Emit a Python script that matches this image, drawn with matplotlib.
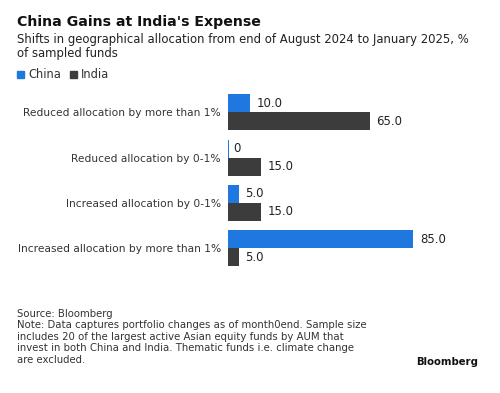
import matplotlib.pyplot as plt
import numpy as np

# data
categories = ["Reduced allocation by more than 1%", "Reduced allocation by 0-1%",
              "Increased allocation by 0-1%", "Increased allocation by more than 1%"]
china = [10.0, 0.0, 5.0, 85.0]
india = [65.0, 15.0, 15.0, 5.0]
series_names = ["China", "India"]
colors = ["#1f77e0", "#3c3c3c"]

fig = plt.figure(figsize=(5, 3.93), dpi=100)
fig.patch.set_facecolor("white")

ax = fig.add_axes([0.456, 0.305, 0.504, 0.4725])
y = np.arange(len(categories))
h = 0.40

b1 = ax.barh(y - h / 2, china, height=h, color=colors[0])
b2 = ax.barh(y + h / 2, india, height=h, color=colors[1])

# zero bar still shows a thin sliver in the original
ax.barh(y[1] - h / 2, 0.6, height=h, color=colors[0])

for bars, vals in ((b1, china), (b2, india)):
    for bar, v in zip(bars, vals):
        txt = "0" if v == 0 else f"{v:.1f}"
        ax.text(v + 3.0 if v > 0 else 2.5, bar.get_y() + bar.get_height() / 2, txt,
                va="center", ha="left", fontsize=8.5, color="#222222")

ax.set_xlim(0, 115.6)
ax.set_ylim(3.55, -0.55)
ax.set_yticks(y)
ax.set_yticklabels(categories, fontsize=7.7, color="#333333")
ax.tick_params(axis="y", length=0, pad=5)
ax.set_xticks([])
for s in ax.spines.values():
    s.set_visible(False)

# title block
fig.text(0.034, 0.945, "China Gains at India's Expense", fontsize=10.2, fontweight="bold",
         color="#111111", va="center")
fig.text(0.034, 0.899, "Shifts in geographical allocation from end of August 2024 to January 2025, %",
         fontsize=8.35, color="#222222", va="center")
fig.text(0.034, 0.864, "of sampled funds", fontsize=8.35, color="#222222", va="center")

# legend
for lx, name, c in zip([0.034, 0.14], series_names, colors):
    fig.patches.append(plt.Rectangle((lx, 0.802), 0.014, 0.018, transform=fig.transFigure,
                                     color=c, figure=fig))
    fig.text(lx + 0.022, 0.811, name, fontsize=8.3, color="#333333", va="center")

# notes
notes = ("Source: Bloomberg\n"
         "Note: Data captures portfolio changes as of month0end. Sample size\n"
         "includes 20 of the largest active Asian equity funds by AUM that\n"
         "invest in both China and India. Thematic funds i.e. climate change\n"
         "are excluded.")
fig.text(0.034, 0.214, notes, fontsize=7.3, color="#333333", va="top", linespacing=1.18)
fig.text(0.956, 0.079, "Bloomberg", fontsize=7.3, fontweight="bold", color="#111111",
         ha="right", va="center")

fig.savefig("out.png", dpi=100, facecolor="white")
